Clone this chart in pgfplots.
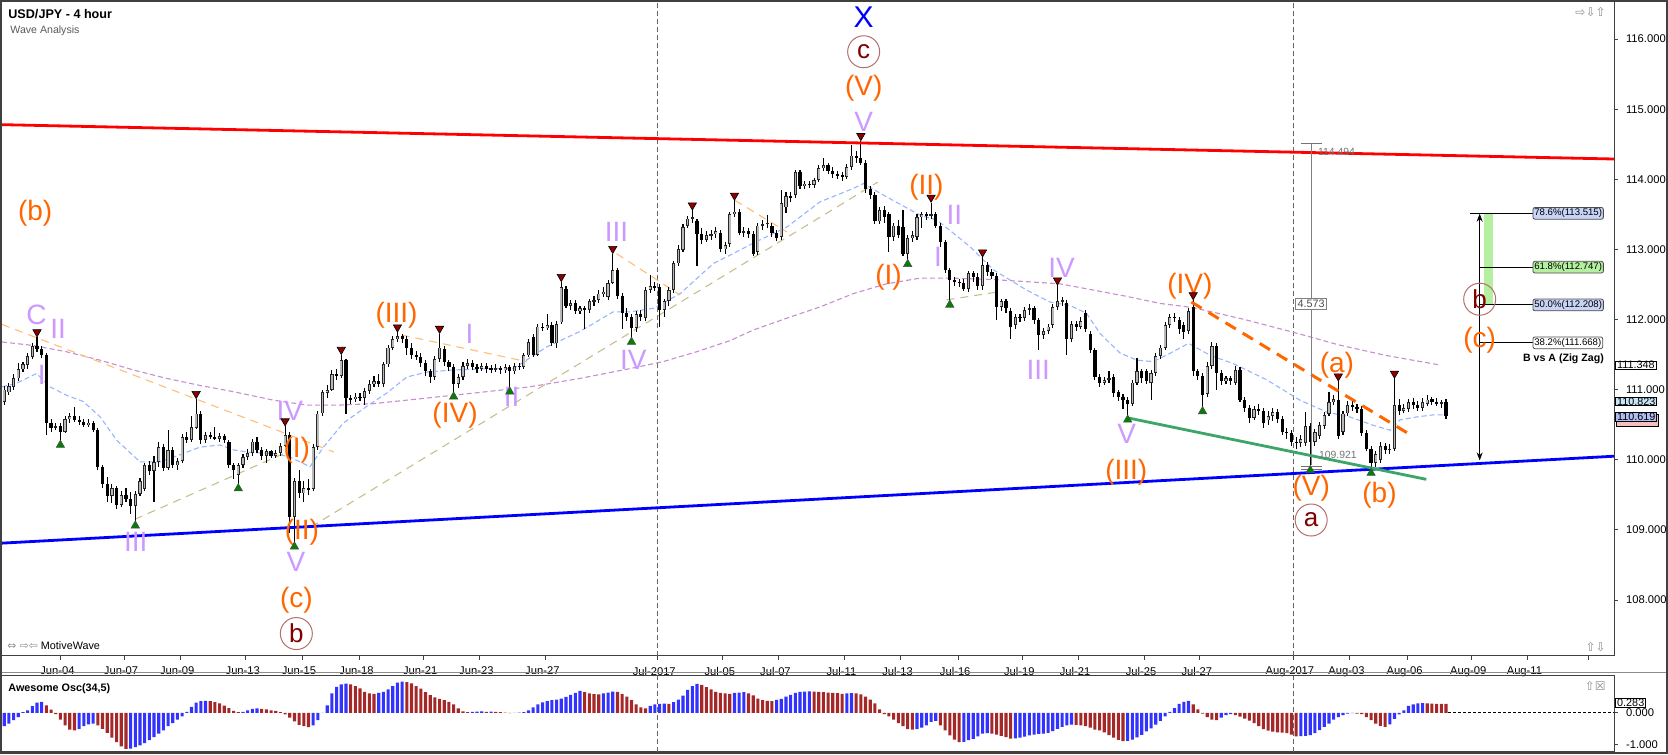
\documentclass[border=0pt]{standalone}
\usepackage{pgfplots}
\pgfplotsset{compat=1.18}
\usepackage{pgfplotstable}
\usepackage{fontspec}
\setmainfont{Liberation Sans}
\newfontfamily\symfont{DejaVu Sans}
\usetikzlibrary{arrows.meta}

\definecolor{wvorange}{RGB}{255,102,0}
\definecolor{wvlav}{RGB}{204,153,255}
\definecolor{wvdred}{RGB}{128,0,0}
\definecolor{wvring}{RGB}{180,110,110}
\definecolor{aoblue}{RGB}{51,51,255}
\definecolor{aored}{RGB}{165,40,40}
\definecolor{mablue}{RGB}{150,180,255}
\definecolor{mapurple}{RGB}{200,140,210}
\definecolor{tanline}{RGB}{200,190,140}
\definecolor{peach}{RGB}{255,190,120}
\definecolor{trendgreen}{RGB}{60,165,105}
\definecolor{trired}{RGB}{139,0,0}
\definecolor{trigreen}{RGB}{0,130,0}
\definecolor{fibgreen}{RGB}{180,240,160}
\definecolor{fibblue}{RGB}{200,212,245}
\definecolor{lblcyan}{RGB}{200,228,245}
\definecolor{lblblue}{RGB}{175,190,245}
\definecolor{lblpink}{RGB}{245,190,190}

% 4h candles: bar index, open, high, low, close
\pgfplotstableread{
i O H L C
0 110.82 111.05 110.78 111.00
1 110.96 111.10 110.92 111.05
2 111.04 111.22 111.00 111.17
3 111.16 111.38 111.12 111.29
4 111.29 111.40 111.25 111.36
5 111.35 111.52 111.30 111.48
6 111.47 111.66 111.44 111.62
7 111.62 111.75 111.54 111.58
8 111.58 111.62 111.45 111.50
9 111.50 111.52 110.35 110.52
10 110.52 110.58 110.40 110.46
11 110.46 110.52 110.42 110.48
12 110.48 110.52 110.28 110.40
13 110.40 110.62 110.38 110.58
14 110.58 110.66 110.52 110.62
15 110.62 110.75 110.54 110.56
16 110.56 110.62 110.50 110.54
17 110.54 110.58 110.46 110.50
18 110.50 110.58 110.46 110.53
19 110.53 110.55 110.40 110.43
20 110.43 110.45 109.86 109.90
21 109.90 109.92 109.60 109.66
22 109.66 109.75 109.40 109.48
23 109.48 109.66 109.38 109.60
24 109.60 109.62 109.30 109.36
25 109.36 109.56 109.32 109.50
26 109.50 109.60 109.40 109.44
27 109.44 109.54 109.22 109.34
28 109.34 109.55 109.13 109.51
29 109.51 109.74 109.48 109.70
30 109.58 109.96 109.55 109.92
31 109.92 109.98 109.78 109.84
32 109.84 110.06 109.40 109.97
33 109.97 110.25 109.90 110.18
34 110.18 110.22 109.84 109.88
35 109.88 110.42 109.85 110.14
36 110.14 110.18 109.88 109.92
37 109.92 110.02 109.86 109.98
38 109.98 110.36 109.95 110.32
39 110.32 110.40 110.24 110.28
40 110.28 110.62 110.26 110.46
41 110.46 110.87 110.44 110.66
42 110.66 110.70 110.22 110.28
43 110.28 110.40 110.24 110.35
44 110.35 110.40 110.30 110.33
45 110.33 110.47 110.28 110.30
46 110.30 110.38 110.26 110.34
47 110.34 110.36 110.24 110.28
48 110.26 110.28 109.88 109.92
49 109.92 109.95 109.72 109.86
50 109.78 109.96 109.66 109.92
51 109.92 110.08 109.88 110.04
52 110.04 110.16 110.00 110.10
53 110.10 110.30 110.06 110.26
54 110.26 110.32 110.10 110.14
55 110.14 110.18 110.00 110.05
56 110.05 110.16 109.95 110.12
57 110.12 110.14 110.02 110.06
58 110.06 110.14 110.02 110.10
59 110.10 110.24 110.06 110.20
60 110.20 110.48 110.18 110.35
61 110.35 110.40 108.95 109.18
62 109.18 109.74 108.83 109.70
63 109.70 109.86 109.45 109.52
64 109.52 109.70 109.40 109.60
65 109.60 109.72 109.50 109.58
66 109.58 110.22 109.55 110.18
67 110.18 110.70 110.14 110.66
68 110.66 111.00 110.62 110.96
69 110.96 111.06 110.88 111.00
70 111.00 111.28 110.98 111.22
71 111.22 111.30 111.14 111.20
72 111.20 111.50 111.16 111.42
73 111.42 111.44 110.66 110.88
74 110.88 110.92 110.80 110.86
75 110.86 110.95 110.82 110.90
76 110.90 110.95 110.84 110.88
77 110.88 111.02 110.78 110.98
78 110.98 111.14 110.94 111.08
79 111.08 111.20 111.04 111.12
80 111.12 111.22 111.04 111.08
81 111.08 111.40 111.04 111.36
82 111.36 111.64 111.32 111.60
83 111.60 111.76 111.56 111.72
84 111.72 111.82 111.68 111.76
85 111.76 111.80 111.66 111.72
86 111.72 111.76 111.50 111.60
87 111.60 111.66 111.44 111.50
88 111.50 111.55 111.42 111.47
89 111.47 111.52 111.32 111.38
90 111.38 111.42 111.20 111.26
91 111.26 111.30 111.10 111.18
92 111.18 111.48 111.14 111.44
93 111.44 111.80 111.40 111.60
94 111.58 111.62 111.34 111.40
95 111.40 111.42 111.26 111.32
96 111.32 111.36 110.97 111.08
97 111.08 111.22 111.02 111.18
98 111.18 111.40 111.14 111.34
99 111.34 111.44 111.30 111.38
100 111.38 111.42 111.28 111.32
101 111.32 111.36 111.24 111.30
102 111.30 111.38 111.26 111.34
103 111.34 111.38 111.24 111.30
104 111.30 111.35 111.24 111.29
105 111.29 111.36 111.25 111.31
106 111.31 111.34 111.22 111.28
107 111.28 111.36 111.24 111.32
108 111.32 111.35 111.04 111.26
109 111.26 111.38 111.22 111.34
110 111.34 111.38 111.28 111.32
111 111.32 111.52 111.30 111.49
112 111.49 111.72 111.46 111.68
113 111.75 111.80 111.46 111.50
114 111.50 111.94 111.48 111.90
115 111.90 111.95 111.84 111.88
116 111.88 112.08 111.85 111.92
117 111.92 111.96 111.62 111.66
118 111.66 111.98 111.60 111.94
119 111.96 112.54 111.94 112.46
120 112.44 112.48 112.16 112.20
121 112.20 112.28 112.14 112.24
122 112.24 112.28 112.08 112.12
123 112.12 112.20 112.08 112.16
124 112.16 112.20 111.86 112.14
125 112.14 112.30 112.10 112.26
126 112.26 112.34 112.20 112.28
127 112.28 112.42 112.24 112.37
128 112.37 112.46 112.32 112.40
129 112.32 112.56 112.28 112.52
130 112.52 112.94 112.50 112.70
131 112.70 112.74 112.30 112.34
132 112.34 112.38 111.86 112.10
133 112.10 112.16 111.98 112.04
134 112.04 112.08 111.75 111.88
135 111.88 112.12 111.82 112.08
136 112.08 112.14 111.98 112.04
137 112.02 112.46 111.98 112.42
138 112.42 112.63 112.38 112.48
139 112.48 112.54 112.40 112.46
140 112.46 112.50 111.90 112.14
141 112.14 112.30 112.04 112.26
142 112.26 112.46 112.20 112.42
143 112.42 112.84 112.38 112.80
144 112.80 113.06 112.76 113.00
145 113.00 113.36 112.96 113.32
146 113.34 113.48 113.30 113.44
147 113.44 113.56 113.38 113.46
148 113.40 113.44 112.76 113.22
149 113.22 113.30 113.08 113.14
150 113.14 113.26 113.10 113.20
151 113.20 113.28 113.14 113.22
152 113.22 113.32 113.16 113.26
153 113.24 113.28 112.96 113.00
154 113.00 113.10 112.94 113.06
155 113.08 113.54 113.04 113.50
156 113.50 113.70 113.46 113.54
157 113.54 113.58 113.20 113.24
158 113.24 113.32 113.18 113.26
159 113.26 113.30 113.16 113.22
160 113.22 113.26 112.90 112.94
161 112.96 113.38 112.92 113.34
162 113.34 113.42 113.28 113.36
163 113.36 113.49 113.30 113.38
164 113.34 113.38 113.18 113.24
165 113.24 113.28 113.12 113.16
166 113.18 113.85 113.14 113.66
167 113.60 113.82 113.52 113.76
168 113.76 113.82 113.68 113.74
169 113.78 114.14 113.74 114.10
170 114.10 114.14 113.86 113.90
171 113.90 113.98 113.86 113.94
172 113.94 113.98 113.88 113.92
173 113.92 114.02 113.88 113.99
174 113.99 114.20 113.96 114.16
175 114.16 114.30 114.12 114.20
176 114.20 114.24 114.08 114.12
177 114.12 114.18 114.02 114.08
178 114.08 114.12 114.00 114.06
179 114.06 114.10 113.98 114.04
180 114.04 114.22 114.00 114.18
181 114.18 114.49 114.14 114.34
182 114.34 114.40 114.24 114.30
183 114.30 114.55 114.20 114.23
184 114.23 114.28 113.80 113.86
185 113.86 113.90 113.72 113.78
186 113.78 113.82 113.36 113.40
187 113.40 113.60 113.36 113.56
188 113.56 113.62 113.38 113.46
189 113.50 113.54 112.97 113.18
190 113.18 113.38 113.12 113.34
191 113.34 113.42 113.16 113.20
192 113.32 113.56 112.90 112.94
193 112.94 113.20 112.86 113.16
194 113.16 113.26 113.10 113.20
195 113.18 113.50 113.14 113.46
196 113.46 113.54 113.30 113.50
197 113.50 113.54 113.42 113.48
198 113.48 113.67 113.44 113.50
199 113.50 113.54 113.30 113.34
200 113.34 113.38 113.04 113.10
201 113.10 113.14 112.66 112.70
202 112.70 112.74 112.28 112.56
203 112.56 112.60 112.48 112.54
204 112.54 112.58 112.46 112.52
205 112.52 112.58 112.40 112.44
206 112.44 112.70 112.40 112.66
207 112.66 112.70 112.54 112.60
208 112.60 112.66 112.42 112.48
209 112.48 112.89 112.42 112.78
210 112.78 112.82 112.62 112.68
211 112.68 112.72 112.58 112.62
212 112.62 112.66 112.00 112.18
213 112.18 112.30 112.12 112.26
214 112.26 112.30 112.10 112.16
215 112.12 112.16 111.72 111.90
216 111.92 112.08 111.86 112.04
217 112.04 112.08 111.96 112.02
218 112.02 112.18 111.98 112.14
219 112.14 112.22 112.06 112.16
220 112.16 112.20 111.94 111.99
221 111.99 112.02 111.56 111.78
222 111.78 111.88 111.72 111.84
223 111.84 111.94 111.80 111.90
224 111.92 112.22 111.88 112.18
225 112.18 112.49 112.14 112.26
226 112.26 112.32 112.20 112.28
227 112.24 112.28 111.50 111.72
228 111.72 111.98 111.68 111.94
229 111.94 111.98 111.84 111.90
230 111.90 112.04 111.86 111.98
231 112.10 112.14 111.82 111.86
232 111.80 111.84 111.52 111.56
233 111.56 111.60 111.14 111.18
234 111.18 111.22 111.04 111.10
235 111.10 111.18 111.06 111.14
236 111.14 111.26 111.10 111.16
237 111.18 111.22 110.90 110.96
238 110.96 111.00 110.84 110.90
239 110.90 110.94 110.73 110.85
240 110.85 110.90 110.64 110.80
241 110.80 111.14 110.76 111.10
242 111.10 111.45 111.06 111.27
243 111.27 111.30 111.10 111.16
244 111.26 111.30 111.08 111.12
245 111.10 111.28 110.86 111.24
246 111.24 111.52 111.20 111.48
247 111.48 111.64 111.44 111.60
248 111.60 111.96 111.56 111.92
249 111.92 112.08 111.88 112.04
250 112.04 112.10 111.96 112.02
251 112.00 112.04 111.80 111.86
252 111.92 111.96 111.72 111.82
253 111.84 112.16 111.80 112.12
254 112.18 112.28 111.20 111.26
255 111.26 111.30 111.14 111.20
256 111.20 111.24 110.76 110.92
257 110.94 111.40 110.90 111.34
258 111.34 111.68 111.30 111.62
259 111.62 111.66 111.00 111.24
260 111.24 111.28 111.06 111.12
261 111.12 111.20 111.08 111.16
262 111.16 111.20 111.06 111.12
263 111.10 111.34 111.06 111.28
264 111.28 111.32 110.82 110.86
265 110.86 110.90 110.68 110.74
266 110.74 110.78 110.52 110.60
267 110.60 110.76 110.56 110.72
268 110.72 110.80 110.64 110.70
269 110.70 110.74 110.46 110.52
270 110.56 110.70 110.50 110.62
271 110.62 110.74 110.56 110.68
272 110.68 110.72 110.52 110.58
273 110.58 110.62 110.36 110.40
274 110.40 110.46 110.30 110.38
275 110.38 110.42 110.20 110.26
276 110.26 110.32 110.16 110.24
277 110.24 110.36 110.18 110.30
278 110.24 110.68 110.20 110.48
279 110.48 110.52 109.92 110.26
280 110.26 110.44 110.20 110.40
281 110.34 110.54 110.30 110.50
282 110.48 110.68 110.44 110.64
283 110.66 110.97 110.62 110.82
284 110.82 110.92 110.78 110.86
285 110.86 111.12 110.30 110.34
286 110.40 110.70 110.36 110.66
287 110.66 110.84 110.62 110.78
288 110.78 110.84 110.70 110.76
289 110.76 110.80 110.66 110.72
290 110.72 110.76 110.34 110.38
291 110.38 110.42 110.12 110.16
292 110.16 110.20 109.88 109.96
293 109.96 110.12 109.90 110.08
294 110.00 110.26 109.96 110.20
295 110.20 110.24 110.08 110.14
296 110.14 110.22 110.08 110.16
297 110.16 111.16 110.12 110.78
298 110.78 110.86 110.64 110.70
299 110.70 110.80 110.66 110.74
300 110.72 110.86 110.68 110.82
301 110.82 110.88 110.72 110.78
302 110.78 110.84 110.70 110.74
303 110.74 110.88 110.70 110.82
304 110.80 110.92 110.76 110.86
305 110.86 110.90 110.78 110.82
306 110.82 110.88 110.76 110.80
307 110.80 110.86 110.74 110.82
308 110.82 110.86 110.58 110.62
}\candles

% Awesome oscillator: bar index, value, colour (1 rising / blue, 0 falling / red)
\pgfplotstableread{
i ao c
0 -0.42 1
1 -0.34 1
2 -0.23 1
3 -0.13 1
4 0.02 1
5 0.08 1
6 0.21 1
7 0.32 1
8 0.35 1
9 0.24 0
10 0.10 0
11 -0.04 0
12 -0.21 0
13 -0.39 0
14 -0.53 0
15 -0.55 0
16 -0.50 1
17 -0.42 1
18 -0.36 1
19 -0.34 1
20 -0.39 0
21 -0.50 0
22 -0.63 0
23 -0.78 0
24 -0.92 0
25 -1.05 0
26 -1.13 0
27 -1.12 1
28 -1.08 1
29 -1.02 1
30 -0.95 1
31 -0.86 1
32 -0.76 1
33 -0.65 1
34 -0.55 1
35 -0.42 1
36 -0.32 1
37 -0.21 1
38 -0.11 1
39 0.03 1
40 0.19 1
41 0.32 1
42 0.37 1
43 0.38 1
44 0.37 0
45 0.34 0
46 0.30 0
47 0.23 0
48 0.15 0
49 0.06 0
50 0.02 0
51 0.03 1
52 0.08 1
53 0.13 1
54 0.14 1
55 0.13 0
56 0.11 0
57 0.08 0
58 0.06 0
59 0.02 0
60 -0.05 0
61 -0.15 0
62 -0.27 0
63 -0.38 0
64 -0.42 0
65 -0.45 0
66 -0.39 1
67 -0.23 1
68 0.00 1
69 0.24 1
70 0.61 1
71 0.82 1
72 0.90 1
73 0.92 1
74 0.90 0
75 0.84 0
76 0.77 0
77 0.66 0
78 0.61 0
79 0.60 0
80 0.63 1
81 0.66 1
82 0.74 1
83 0.84 1
84 0.95 1
85 0.98 1
86 0.97 0
87 0.93 0
88 0.84 0
89 0.76 0
90 0.65 0
91 0.56 0
92 0.49 0
93 0.44 0
94 0.40 0
95 0.35 0
96 0.27 0
97 0.14 0
98 0.05 0
99 0.02 0
100 0.03 1
101 0.04 1
102 0.05 1
103 0.03 0
104 0.04 1
105 0.03 0
106 0.02 0
107 0.01 0
108 -0.01 0
109 0.00 1
110 0.01 1
111 0.02 1
112 0.08 1
113 0.17 1
114 0.27 1
115 0.33 1
116 0.37 1
117 0.40 1
118 0.42 1
119 0.45 1
120 0.50 1
121 0.57 1
122 0.63 1
123 0.69 1
124 0.65 0
125 0.61 0
126 0.59 0
127 0.58 0
128 0.61 1
129 0.64 1
130 0.67 1
131 0.66 0
132 0.59 0
133 0.51 0
134 0.40 0
135 0.27 0
136 0.17 0
137 0.14 0
138 0.22 1
139 0.27 1
140 0.28 1
141 0.29 1
142 0.28 0
143 0.34 1
144 0.42 1
145 0.54 1
146 0.72 1
147 0.84 1
148 0.91 1
149 0.88 0
150 0.81 0
151 0.74 0
152 0.66 0
153 0.63 0
154 0.61 0
155 0.60 0
156 0.63 1
157 0.64 1
158 0.65 1
159 0.61 0
160 0.55 0
161 0.45 0
162 0.40 0
163 0.38 0
164 0.37 0
165 0.41 1
166 0.44 1
167 0.51 1
168 0.57 1
169 0.63 1
170 0.66 1
171 0.67 1
172 0.68 1
173 0.67 0
174 0.66 0
175 0.65 0
176 0.64 0
177 0.63 0
178 0.62 0
179 0.60 0
180 0.61 1
181 0.62 1
182 0.61 0
183 0.58 0
184 0.51 0
185 0.42 0
186 0.30 0
187 0.11 0
188 -0.04 0
189 -0.11 0
190 -0.21 0
191 -0.32 0
192 -0.42 0
193 -0.51 0
194 -0.53 0
195 -0.51 1
196 -0.46 1
197 -0.39 1
198 -0.28 1
199 -0.25 1
200 -0.39 0
201 -0.55 0
202 -0.71 0
203 -0.84 0
204 -0.92 0
205 -0.91 1
206 -0.86 1
207 -0.82 1
208 -0.74 1
209 -0.65 1
210 -0.64 1
211 -0.65 0
212 -0.68 0
213 -0.72 0
214 -0.76 0
215 -0.81 0
216 -0.80 1
217 -0.78 1
218 -0.75 1
219 -0.71 1
220 -0.68 1
221 -0.66 1
222 -0.65 1
223 -0.63 1
224 -0.57 1
225 -0.50 1
226 -0.44 1
227 -0.39 1
228 -0.37 1
229 -0.38 0
230 -0.39 0
231 -0.42 0
232 -0.46 0
233 -0.53 0
234 -0.55 0
235 -0.61 0
236 -0.70 0
237 -0.78 0
238 -0.85 0
239 -0.89 0
240 -0.88 1
241 -0.84 1
242 -0.77 1
243 -0.69 1
244 -0.58 1
245 -0.49 1
246 -0.37 1
247 -0.25 1
248 -0.11 1
249 0.03 1
250 0.15 1
251 0.28 1
252 0.35 1
253 0.38 1
254 0.27 0
255 0.11 0
256 -0.02 0
257 -0.13 0
258 -0.21 0
259 -0.23 0
260 -0.15 1
261 -0.07 1
262 -0.04 1
263 -0.07 0
264 -0.12 0
265 -0.18 0
266 -0.24 0
267 -0.32 0
268 -0.42 0
269 -0.51 0
270 -0.56 0
271 -0.59 0
272 -0.61 0
273 -0.62 0
274 -0.64 0
275 -0.68 0
276 -0.74 0
277 -0.73 1
278 -0.72 1
279 -0.70 1
280 -0.64 1
281 -0.54 1
282 -0.44 1
283 -0.34 1
284 -0.21 1
285 -0.13 1
286 -0.07 1
287 -0.02 1
288 -0.01 1
289 -0.02 0
290 -0.04 0
291 -0.13 0
292 -0.23 0
293 -0.34 0
294 -0.41 0
295 -0.44 0
296 -0.36 1
297 -0.19 1
298 -0.05 1
299 0.08 1
300 0.22 1
301 0.27 1
302 0.30 1
303 0.31 1
304 0.30 0
305 0.29 0
306 0.285 0
307 0.28 0
308 0.28 0
}\aodata

\newcommand\orl[1]{{\fontsize{14}{14}\selectfont #1}}
\newcommand\lvl[1]{{\fontsize{14}{14}\selectfont #1}}
\tikzset{
  orlab/.style={text=wvorange, inner sep=0pt},
  lvlab/.style={text=wvlav, inner sep=0pt},
  ring/.style={circle, draw=wvring, line width=0.5pt, minimum size=16pt, inner sep=0pt, text=wvdred, font=\fontsize{13}{13}\selectfont},
  fiblab/.style={anchor=west, draw=black!70, rounded corners=1pt, inner sep=0.7pt, font=\fontsize{4.8}{5}\selectfont},
  pricelab/.style={anchor=west, draw=black, inner xsep=0.7pt, inner ysep=0.2pt, font=\fontsize{5.4}{5.6}\selectfont},
}

\begin{document}
\begin{tikzpicture}
\useasboundingbox (0,0) rectangle (834pt,377pt);

% ---------------- price panel ----------------
\begin{axis}[
  at={(1pt,49pt)}, anchor=south west,
  scale only axis, width=806pt, height=327pt,
  xmin=-0.48, xmax=343.9, ymin=107.2, ymax=116.53,
  axis line style={black!75, line width=0.5pt},
  xtick={12.0,25.6,37.6,51.6,63.6,75.9,89.5,101.5,115.6,139.5,153.5,165.4,179.5,191.5,203.8,217.5,229.4,243.5,255.4,275.3,287.4,299.8,313.4,325.4,338.4},
  xticklabels={Jun-04,Jun-07,Jun-09,Jun-13,Jun-15,Jun-18,Jun-21,Jun-23,Jun-27,Jul-2017,Jul-05,Jul-07,Jul-11,Jul-13,Jul-16,Jul-19,Jul-21,Jul-25,Jul-27,Aug-2017,Aug-03,Aug-06,Aug-09,Aug-11,{}},
  ytick={108,109,110,111,112,113,114,115,116},
  yticklabels={108.000,109.000,110.000,111.000,112.000,113.000,114.000,115.000,116.000},
  xtick pos=lower, ytick pos=right, tick align=outside, major tick length=2pt,
  tick style={black!75, line width=0.4pt},
  ticklabel style={font=\fontsize{5.6}{6.5}\selectfont},
  xticklabel style={xshift=-1.5pt},
  yticklabel style={xshift=0.5pt},
  clip=false,
]
% month separators
\addplot[black!60, dash pattern=on 2.5pt off 1.5pt, line width=0.4pt] coordinates {(139.5,107.2) (139.5,116.53)};
\addplot[black!60, dash pattern=on 2.5pt off 1.5pt, line width=0.4pt] coordinates {(275.3,107.2) (275.3,116.53)};

% moving averages
\addplot[mapurple, dash pattern=on 2.5pt off 1.5pt, line width=0.55pt] coordinates {
(-0.48,111.68) (6.2,111.63) (13.3,111.54) (20.5,111.42) (27.6,111.28) (34.7,111.16) (41.8,111.06) (49,110.97)
(57.5,110.85) (64.6,110.78) (71.7,110.78) (78.9,110.80) (86,110.85) (93.1,110.90) (101.6,110.96) (112.3,111.04)
(123,111.16) (133.7,111.30) (140.8,111.40) (147.9,111.54) (155.1,111.70) (160,111.85) (167.2,112.02) (174.3,112.18)
(181.4,112.37) (188.5,112.51) (195.6,112.59) (202.8,112.59) (211.3,112.57) (218.4,112.54) (225.5,112.51) (232.7,112.42)
(239.8,112.33) (246.9,112.23) (254,112.17) (265,112.00) (275.3,111.82) (285,111.64) (295,111.49) (306.8,111.35)};
\addplot[mablue, dash pattern=on 2.5pt off 1.5pt, line width=0.55pt] coordinates {
(-0.48,111.04) (2.6,111.09) (6.9,111.23) (9.8,111.04) (13.3,110.92) (16.9,110.83) (20.5,110.61) (24,110.28) (29,109.97)
(33.3,109.97) (37.5,110.07) (41.8,110.18) (46.1,110.21) (49,110.14) (53,110.10) (57.5,110.09) (61,110.04) (65.3,109.90)
(68.2,110.18) (72.4,110.52) (77.4,110.76) (81.7,110.95) (86,111.18) (90.3,111.25) (95.9,111.28) (103.8,111.30)
(108.8,111.30) (115.9,111.61) (123,111.83) (130.1,112.11) (133.7,112.11) (138.7,112.16) (144.4,112.37) (151.5,112.80)
(155.1,112.92) (160,113.09) (167.2,113.32) (174.3,113.68) (181.4,113.87) (183.5,113.94) (188.5,113.75) (195.6,113.49)
(199.2,113.42) (202.8,113.23) (206.3,113.04) (211.3,112.71) (218.4,112.42) (223.4,112.25) (227.7,112.20) (231.2,112.09)
(234.1,111.80) (238.4,111.52) (242,111.42) (245.5,111.40) (249.1,111.52) (253,111.66) (257.6,111.49) (262.6,111.37)
(269.7,111.14) (276.8,110.85) (282.5,110.68) (287.5,110.61) (292.5,110.49) (296.1,110.42) (298.2,110.57) (301.7,110.61)
(305.3,110.64) (308.2,110.64)};

% thin dashed wave channels
\addplot[tanline, dash pattern=on 4pt off 3pt, line width=0.55pt] coordinates {(27.9,109.15) (60.1,110.10)};
\addplot[tanline, dash pattern=on 4pt off 3pt, line width=0.55pt] coordinates {(65.5,109.04) (186.6,113.96)};
\addplot[tanline, dash pattern=on 4pt off 3pt, line width=0.55pt] coordinates {(201.3,112.28) (212.9,112.40)};
\addplot[peach, dash pattern=on 4pt off 3pt, line width=0.55pt] coordinates {(-0.48,111.93) (70.4,110.11)};
\addplot[peach, dash pattern=on 4pt off 3pt, line width=0.55pt] coordinates {(84.9,111.78) (111.6,111.40)};
\addplot[peach, dash pattern=on 4pt off 3pt, line width=0.55pt] coordinates {(130.8,112.94) (144.4,112.35)};
\addplot[peach, dash pattern=on 4pt off 3pt, line width=0.55pt] coordinates {(156.1,113.70) (167.2,113.25)};

% candles: wicks, then bodies (bars of the other colour are pushed out of range and dropped)
\addplot[draw=none, mark=none, error bars/.cd, y dir=both, y explicit, error mark=none,
  error bar style={draw=black, line width=0.55pt}]
  table[x=i, y expr={(\thisrow{H}+\thisrow{L})/2}, y error expr={(\thisrow{H}-\thisrow{L})/2}] {\candles};
\addplot[restrict y to domain=100:130, unbounded coords=jump, draw=none, mark=none, error bars/.cd, y dir=both, y explicit, error mark=none,
  error bar style={draw=black, line width=1.6pt}]
  table[x=i, y expr={(\thisrow{O}+\thisrow{C})/2+1000*(\thisrow{C}>=\thisrow{O})}, y error expr={max(abs(\thisrow{O}-\thisrow{C})/2,0.01)}] {\candles};
\addplot[restrict y to domain=100:130, unbounded coords=jump, draw=none, mark=none, error bars/.cd, y dir=both, y explicit, error mark=none,
  error bar style={draw=black!85, line width=1.6pt}]
  table[x=i, y expr={(\thisrow{O}+\thisrow{C})/2+1000*(\thisrow{C}<\thisrow{O})}, y error expr={max(abs(\thisrow{O}-\thisrow{C})/2,0.01)}] {\candles};
\addplot[restrict y to domain=100:130, unbounded coords=jump, draw=none, mark=none, error bars/.cd, y dir=both, y explicit, error mark=none,
  error bar style={draw=black!28, line width=0.8pt}]
  table[x=i, y expr={(\thisrow{O}+\thisrow{C})/2+1000*(\thisrow{C}<\thisrow{O})}, y error expr={max(abs(\thisrow{O}-\thisrow{C})/2-0.012,0)}] {\candles};

% support / resistance lines
\addplot[red, line width=1.4pt] coordinates {(-0.48,114.78) (343.9,114.29)};
\addplot[blue, line width=1.4pt] coordinates {(-0.48,108.81) (343.9,110.05)};
\addplot[trendgreen, line width=1.4pt] coordinates {(239.8,110.60) (303.8,109.72)};
\addplot[wvorange, line width=1.5pt, dash pattern=on 6pt off 4pt] coordinates {(253.6,112.25) (299.8,110.38)};

% swing markers
\addplot[only marks, mark=triangle*, mark size=2.4pt, mark options={rotate=180, fill=trired, draw=black, line width=0.3pt}] coordinates {
(7,111.82) (41,110.94) (60,110.55) (72,111.57) (84,111.89) (93,111.87) (119,112.61) (130,113.01) (147,113.63)
(156,113.77) (183,114.62) (198,113.74) (209,112.96) (225,112.56) (254,112.35) (285,111.19) (297,111.23)};
\addplot[only marks, mark=triangle*, mark size=2.4pt, mark options={fill=trigreen, draw=black!70, line width=0.3pt}] coordinates {
(12,110.21) (28,109.06) (50,109.59) (62,108.76) (96,110.90) (108,110.97) (134,111.68) (193,112.79) (202,112.21)
(240,110.57) (256,110.69) (279,109.85) (292,109.81)};

% measurement tool
\draw[black!50, line width=0.6pt] (axis cs:279.2,109.92) -- (axis cs:279.2,114.51);
\draw[black!55, line width=0.6pt] (axis cs:277.0,114.51) -- (axis cs:281.6,114.51);
\draw[black!55, line width=0.6pt] (axis cs:277.0,109.90) -- (axis cs:281.6,109.90);
\draw[black!55, line width=0.6pt] (axis cs:277.0,109.86) -- (axis cs:281.6,109.86);
\node[draw=black!50, fill=white, inner sep=0.9pt, font=\fontsize{5.4}{6}\selectfont, text=black!70] at (axis cs:279.2,112.22) {4.573};
\node[anchor=west, font=\fontsize{5.2}{6}\selectfont, text=black!55, inner sep=0.5pt] at (axis cs:280.4,114.39) {114.494};
\node[anchor=west, font=\fontsize{5.2}{6}\selectfont, text=black!55, inner sep=0.5pt] at (axis cs:280.6,110.07) {109.921};

% fibonacci projection
\fill[fibgreen] (axis cs:316.2,112.21) rectangle (axis cs:318.0,113.5);
\draw[black, line width=0.5pt, {Stealth[length=4pt,width=3pt]}-{Stealth[length=4pt,width=3pt]}] (axis cs:315.2,109.99) -- (axis cs:315.2,113.51);
\draw[black, line width=0.6pt] (axis cs:313.1,113.515) -- (axis cs:317.0,113.515);
\draw[black, line width=0.5pt] (axis cs:317.0,113.515) -- (axis cs:326.5,113.515);
\draw[black, line width=0.5pt] (axis cs:315.2,112.747) -- (axis cs:326.5,112.747);
\draw[black, line width=0.5pt] (axis cs:315.2,112.208) -- (axis cs:326.5,112.208);
\draw[black, line width=0.5pt] (axis cs:315.2,111.668) -- (axis cs:326.5,111.668);
\node[fiblab, fill=fibblue] at (axis cs:326.5,113.515) {78.6\%(113.515)};
\node[fiblab, fill=fibgreen] at (axis cs:326.5,112.747) {61.8\%(112.747)};
\node[fiblab, fill=fibblue] at (axis cs:326.5,112.208) {50.0\%(112.208)};
\node[fiblab, fill=white] at (axis cs:326.5,111.668) {38.2\%(111.668)};
\node[anchor=east, inner sep=0pt, font=\bfseries\fontsize{5.3}{6}\selectfont] at (axis cs:341.8,111.44) {B vs A (Zig Zag)};

% wave labels
\node[orlab] at (axis cs:6.6,113.52) {\orl{(b)}};
\node[orlab] at (axis cs:62.5,110.14) {\orl{(I)}};
\node[orlab] at (axis cs:63.6,108.97) {\orl{(II)}};
\node[orlab] at (axis cs:62.4,107.99) {\orl{(c)}};
\node[orlab] at (axis cs:83.8,112.06) {\orl{(III)}};
\node[orlab] at (axis cs:96.3,110.64) {\orl{(IV)}};
\node[orlab] at (axis cs:183.6,115.30) {\orl{(V)}};
\node[orlab] at (axis cs:197.0,113.89) {\orl{(II)}};
\node[orlab] at (axis cs:188.9,112.61) {\orl{(I)}};
\node[orlab] at (axis cs:239.7,109.82) {\orl{(III)}};
\node[orlab] at (axis cs:253.3,112.47) {\orl{(IV)}};
\node[orlab] at (axis cs:279.2,109.59) {\orl{(V)}};
\node[orlab] at (axis cs:284.7,111.35) {\orl{(a)}};
\node[orlab] at (axis cs:293.8,109.50) {\orl{(b)}};
\node[orlab] at (axis cs:315.2,111.71) {\orl{(c)}};

\node[lvlab] at (axis cs:6.9,112.06) {\lvl{C}};
\node[lvlab] at (axis cs:11.5,111.87) {\lvl{II}};
\node[lvlab] at (axis cs:8.0,111.21) {\lvl{I}};
\node[lvlab] at (axis cs:28.1,108.83) {\lvl{III}};
\node[lvlab] at (axis cs:61.0,110.70) {\lvl{IV}};
\node[lvlab] at (axis cs:62.3,108.54) {\lvl{V}};
\node[lvlab] at (axis cs:99.4,111.80) {\lvl{I}};
\node[lvlab] at (axis cs:108.4,110.90) {\lvl{II}};
\node[lvlab] at (axis cs:130.8,113.25) {\lvl{III}};
\node[lvlab] at (axis cs:134.4,111.42) {\lvl{IV}};
\node[lvlab] at (axis cs:183.6,114.82) {\lvl{V}};
\node[lvlab] at (axis cs:203.0,113.50) {\lvl{II}};
\node[lvlab] at (axis cs:199.5,112.89) {\lvl{I}};
\node[lvlab] at (axis cs:225.9,112.73) {\lvl{IV}};
\node[lvlab] at (axis cs:220.9,111.28) {\lvl{III}};
\node[lvlab] at (axis cs:239.8,110.37) {\lvl{V}};

\node[text=blue, inner sep=0pt, font=\fontsize{15}{15}\selectfont] at (axis cs:183.6,116.32) {X};
\node[ring] at (axis cs:183.6,115.82) {c};
\node[ring] at (axis cs:62.4,107.52) {b};
\node[ring] at (axis cs:279.2,109.14) {a};
\node[ring] at (axis cs:315.2,112.29) {b};

% right-hand price flags (a pink flag mostly hidden behind the blue one)
\draw[black, fill=lblpink, line width=0.4pt] (axis cs:344.3,110.47) rectangle ++(21pt,6pt);
\node[pricelab, fill=white] at (axis cs:344.2,111.348) {111.348};
\node[pricelab, fill=lblcyan] at (axis cs:344.2,110.830) {110.823};
\node[pricelab, fill=lblblue] at (axis cs:344.2,110.612) {110.619};
\end{axis}

% ---------------- oscillator panel ----------------
\begin{axis}[
  at={(1pt,1pt)}, anchor=south west,
  scale only axis, width=806pt, height=38pt,
  xmin=-0.48, xmax=343.9, ymin=-1.23, ymax=1.16,
  axis line style={black!75, line width=0.5pt},
  xtick=\empty,
  ytick={0,-1}, yticklabels={0.000,-1.000},
  ytick pos=right, tick align=outside, major tick length=2pt,
  tick style={black!75, line width=0.4pt},
  ticklabel style={font=\fontsize{5.6}{6.5}\selectfont},
  yticklabel style={xshift=0.5pt},
  clip=false,
]
\addplot[black!60, dash pattern=on 2.5pt off 1.5pt, line width=0.4pt] coordinates {(139.5,-1.23) (139.5,1.16)};
\addplot[black!60, dash pattern=on 2.5pt off 1.5pt, line width=0.4pt] coordinates {(275.3,-1.23) (275.3,1.16)};
\addplot[black, dash pattern=on 1.5pt off 1pt, line width=0.4pt] coordinates {(308.5,0) (343.9,0)};
\addplot[restrict y to domain=-5:5, ybar, bar width=1.55pt, bar shift=0pt, fill=aoblue, draw=none]
  table[x=i, y expr={\thisrow{ao}+1000*(1-\thisrow{c})}] {\aodata};
\addplot[restrict y to domain=-5:5, ybar, bar width=1.55pt, bar shift=0pt, fill=aored, draw=none]
  table[x=i, y expr={\thisrow{ao}+1000*\thisrow{c}}] {\aodata};
\node[pricelab, fill=white] at (axis cs:344.2,0.31) {0.283};
\end{axis}

% panel titles and chrome
\node[anchor=west, inner sep=0pt, font=\bfseries\fontsize{6.3}{7}\selectfont] at (4pt,370pt) {USD/JPY - 4 hour};
\node[anchor=west, inner sep=0pt, font=\fontsize{5.3}{6}\selectfont, text=black!65] at (5pt,361.5pt) {Wave Analysis};
\node[anchor=west, inner sep=0pt, font=\bfseries\fontsize{5.4}{6}\selectfont] at (4pt,32.5pt) {Awesome Osc(34,5)};
\node[anchor=west, inner sep=0pt, font=\fontsize{5.4}{6}\selectfont] at (3.5pt,54pt) {{\symfont\color{black!45}⇔ ⇨⇦} MotiveWave};
\node[anchor=east, inner sep=0pt, font=\symfont\fontsize{6}{6}\selectfont, text=black!45] at (803pt,371pt) {⇨⇩⇧};
\node[anchor=east, inner sep=0pt, font=\symfont\fontsize{6}{6}\selectfont, text=black!45] at (803pt,53.5pt) {⇧⇩};
\node[anchor=east, inner sep=0pt, font=\symfont\fontsize{6}{6}\selectfont, text=black!45] at (803pt,34pt) {⇧☒};
\draw[black!45, line width=0.5pt] (0,40.5pt) -- (834pt,40.5pt);
\draw[black!75, line width=1pt] (0.5pt,0.5pt) rectangle (833.5pt,376.5pt);
\end{tikzpicture}
\end{document}
